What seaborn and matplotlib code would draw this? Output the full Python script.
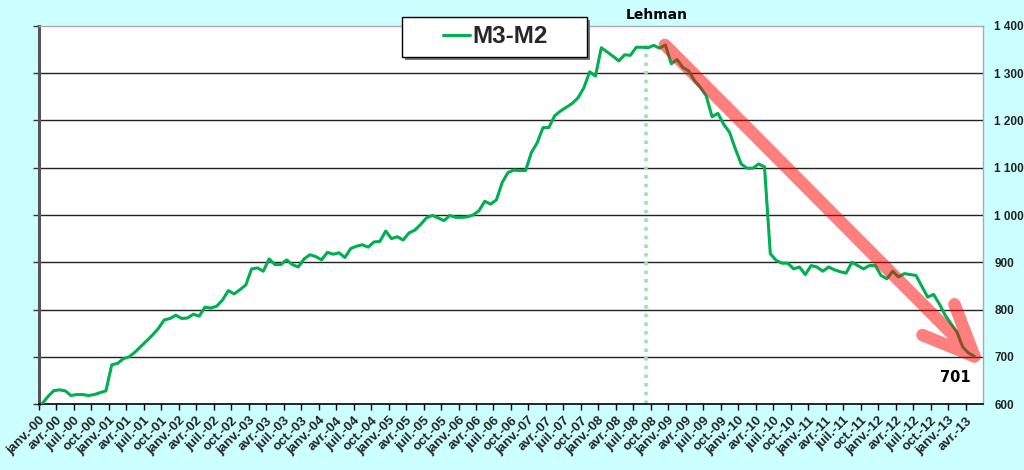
import numpy as np
import pandas as pd
import matplotlib
matplotlib.use("Agg")
import matplotlib.pyplot as plt
from matplotlib.patches import Rectangle
import seaborn as sns

# Data: M3-M2, monthly, janv.-00 .. mai-13
m3_m2 = [
    600, 615, 628, 630, 628, 618, 620, 620, 618, 620, 624, 628,   # 2000
    683, 686, 696, 700, 710, 722, 734, 746, 760, 778, 781, 788,   # 2001
    781, 782, 790, 786, 805, 803, 807, 820, 840, 833, 842, 852,   # 2002
    886, 888, 881, 907, 895, 895, 905, 895, 890, 907, 916, 912,   # 2003
    905, 921, 917, 920, 910, 929, 934, 937, 932, 943, 944, 966,   # 2004
    950, 954, 947, 962, 968, 980, 994, 999, 994, 988, 999, 995,   # 2005
    995, 996, 1000, 1009, 1029, 1023, 1032, 1069, 1090, 1095, 1094, 1094,  # 2006
    1132, 1153, 1185, 1185, 1210, 1220, 1228, 1236, 1248, 1269, 1303, 1294,  # 2007
    1354, 1345, 1336, 1326, 1339, 1338, 1355, 1355, 1354, 1359, 1353, 1360,  # 2008
    1320, 1329, 1312, 1305, 1284, 1270, 1252, 1208, 1215, 1192, 1175, 1140,  # 2009
    1108, 1099, 1099, 1108, 1102, 918, 904, 898, 898, 886, 890, 874,         # 2010
    893, 890, 881, 890, 884, 880, 877, 900, 893, 886, 893, 893,              # 2011
    872, 865, 881, 869, 876, 874, 872, 849, 826, 832, 812, 788,              # 2012
    770, 753, 721, 708, 701,                                                 # 2013
]
month_names = ["janv.", "avr.", "juil.", "oct."]
years = [f"{y:02d}" for y in range(0, 14)]
tick_labels = [f"{m}-{y}" for y in years for m in month_names][:54]   # up to avr.-13
y_ticks = [600, 700, 800, 900, 1000, 1100, 1200, 1300, 1400]
lehman_month = 104          # sept.-08
last_value = m3_m2[-1]

# Trend arrow (data units)
arrow_start = (107.4, 1360)
arrow_tip = (160.5, 701)
arrow_left = (151.6, 746)
arrow_right = (157.1, 811)

df = pd.DataFrame({"pos": np.arange(len(m3_m2)) + 0.5, "value": m3_m2})

sns.set_theme(style="white")
plt.rcParams["font.family"] = ["Liberation Sans", "DejaVu Sans"]

bg = "#CCFFFF"
green = "#00B050"

fig = plt.figure(figsize=(10.24, 4.7), dpi=100, facecolor=bg)
ax = fig.add_axes([0.038, 0.1404, 0.922, 0.8043])
ax.set_facecolor("white")

# gridlines
for v in y_ticks[1:-1]:
    ax.axhline(v, color="#222222", lw=1.0, zorder=1)

# Lehman marker
ax.plot([lehman_month + 0.2, lehman_month + 0.2], [600, 1362], color="#9BE3B4",
        lw=2.6, ls=(0, (1, 1.4)), zorder=2)
ax.text(lehman_month + 2.0, 1.03, "Lehman", transform=ax.get_xaxis_transform(),
        ha="center", va="center", fontsize=10, fontweight="bold", color="black",
        family="DejaVu Sans")

sns.lineplot(data=df, x="pos", y="value", color=green, lw=2.2, ax=ax, zorder=3,
             label="M3-M2", legend=False)

# red arrow, single path so overlaps don't stack alpha
ax_x = [arrow_start[0], arrow_tip[0], arrow_left[0], np.nan, arrow_tip[0], arrow_right[0]]
ax_y = [arrow_start[1], arrow_tip[1], arrow_left[1], np.nan, arrow_tip[1], arrow_right[1]]
ax.plot(ax_x, ax_y, color="#FF0000", alpha=0.5, lw=9, solid_capstyle="round",
        solid_joinstyle="round", zorder=4)

ax.text(157.3, 657, f"{last_value}", ha="center", va="center",
        fontsize=10.5, fontweight="bold", color="black", family="DejaVu Sans")

ax.set_xticks(np.arange(len(tick_labels)) * 3)
ax.set_xticklabels(tick_labels, rotation=45, ha="right", color="#222222",
                   rotation_mode="anchor", fontsize=9.5, fontweight="bold")
ax.set_yticks(y_ticks)
ax.set_yticklabels([f"{v:,}".replace(",", " ") for v in y_ticks],
                   fontsize=8.5, fontweight="bold", color="#222222")
ax.set_xlim(0, 162)
ax.set_ylim(600, 1400)
ax.tick_params(axis="y", left=True, right=False, labelleft=False, labelright=True,
               length=4, width=1, color="#333333", pad=4, direction="out")
ax.tick_params(axis="x", bottom=True, length=4, width=1, color="black", pad=3.5,
               direction="out")
ax.set_xlabel("")
ax.set_ylabel("")

for side in ["top", "right"]:
    ax.spines[side].set_color("#AAAAAA")
    ax.spines[side].set_linewidth(1)
ax.spines["left"].set_color("#555555")
ax.spines["left"].set_linewidth(2.2)
ax.spines["bottom"].set_color("black")
ax.spines["bottom"].set_linewidth(1.2)

# legend box with shadow
box_x, box_y, box_w, box_h = 0.3926, 0.879, 0.1807, 0.0851
fig.patches.append(Rectangle((box_x + 0.003, box_y - 0.0064), box_w, box_h,
                             transform=fig.transFigure, facecolor="#777777",
                             edgecolor="none", zorder=5))
fig.patches.append(Rectangle((box_x, box_y), box_w, box_h, transform=fig.transFigure,
                             facecolor="white", edgecolor="black", lw=1, zorder=6))
leg = fig.legend(loc="center",
                 bbox_to_anchor=(box_x + box_w / 2 + 0.001, box_y + box_h / 2),
                 frameon=False, prop={"weight": "bold", "size": 17.5},
                 handlelength=1.1, handletextpad=0.1)
leg.set_zorder(7)

fig.savefig("out.png", dpi=100, facecolor=bg)
